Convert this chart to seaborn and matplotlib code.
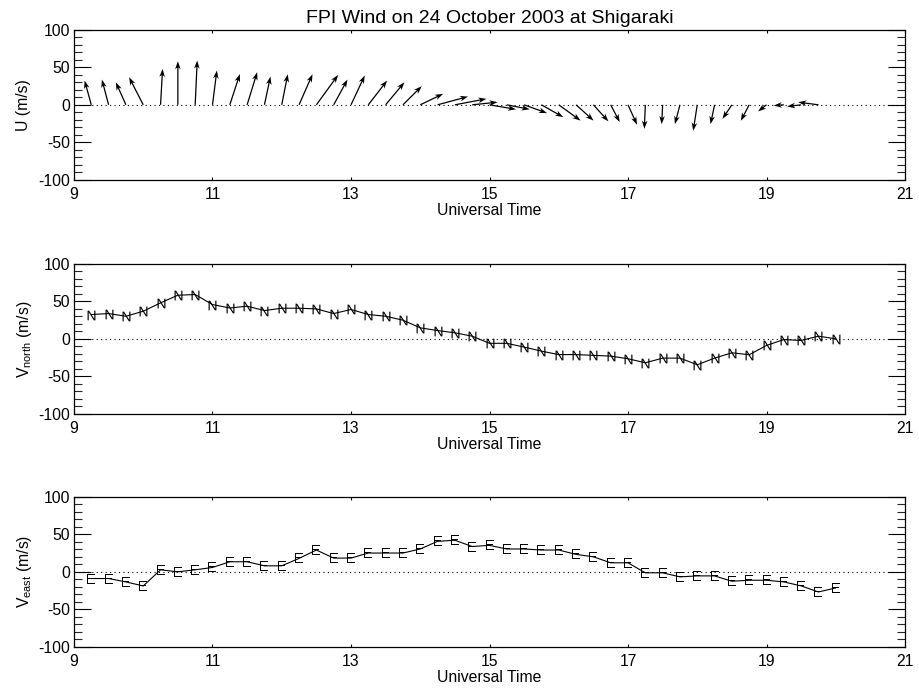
import matplotlib
matplotlib.use("Agg")
import matplotlib.pyplot as plt
import seaborn as sns
import pandas as pd
from matplotlib.ticker import MultipleLocator

# ---------------- data ----------------
times = [9.25, 9.5, 9.75, 10.0, 10.25, 10.5, 10.75, 11.0, 11.25, 11.5, 11.75,
         12.0, 12.25, 12.5, 12.75, 13.0, 13.25, 13.5, 13.75, 14.0, 14.25, 14.5,
         14.75, 15.0, 15.25, 15.5, 15.75, 16.0, 16.25, 16.5, 16.75, 17.0, 17.25,
         17.5, 17.75, 18.0, 18.25, 18.5, 18.75, 19.0, 19.25, 19.5, 19.75, 20.0]

v_north = [32.3, 33.6, 30.0, 36.7, 47.8, 58.0, 58.9, 45.6, 41.0, 43.4, 37.6,
           40.7, 40.7, 39.8, 33.6, 39.0, 32.3, 30.0, 24.8, 14.6, 11.0, 8.0,
           3.5, -6.0, -6.0, -11.0, -16.4, -21.0, -21.0, -22.0, -23.0, -26.5, -31.9,
           -25.7, -25.7, -34.5, -25.7, -18.6, -21.2, -8.8, -1.0, -2.2, 3.5, 0.0]

v_east = [-8.9, -8.9, -13.4, -18.8, 2.7, 0.0, 2.7, 5.8, 13.4, 13.4, 8.0,
          8.0, 17.9, 29.0, 18.3, 18.3, 25.0, 25.0, 25.0, 30.4, 40.6, 42.0,
          33.7, 35.2, 30.4, 30.4, 29.0, 29.0, 23.2, 20.0, 12.0, 12.0, -1.3,
          -1.3, -6.7, -5.4, -5.4, -12.5, -11.2, -11.2, -13.4, -18.7, -26.8, -21.4]

n_arrows = 43  # the last sample has no arrow drawn in the vector panel

title = "FPI Wind on 24 October 2003 at Shigaraki"
xlabel = "Universal Time"
ylabels = ["U (m/s)", r"V$_{\mathregular{north}}$ (m/s)", r"V$_{\mathregular{east}}$ (m/s)"]
xticks = [9, 11, 13, 15, 17, 19, 21]
yticks = [-100, -50, 0, 50, 100]

df = pd.DataFrame({"t": times, "north": v_north, "east": v_east})

# ---------------- style ----------------
sns.set_theme(style="ticks")
plt.rcParams["font.family"] = ["Liberation Sans", "DejaVu Sans"]
plt.rcParams["mathtext.fontset"] = "custom"
plt.rcParams["mathtext.rm"] = "Liberation Sans"
plt.rcParams["mathtext.it"] = "Liberation Sans"
plt.rcParams["axes.linewidth"] = 0.9
plt.rcParams["axes.edgecolor"] = "black"
plt.rcParams["axes.unicode_minus"] = False

fig = plt.figure(figsize=(9.19, 6.96), dpi=100)
left, width, height = 0.0805, 0.9043, 0.2160
bottoms = [0.7414, 0.4052, 0.0704]
axes = [fig.add_axes([left, b, width, height]) for b in bottoms]

FS = 11.3

def style_axis(ax, ylab, pad):
    ax.set_xlim(9, 21)
    ax.set_ylim(-100, 100)
    ax.set_xticks(xticks)
    ax.set_yticks(yticks)
    ax.yaxis.set_minor_locator(MultipleLocator(10))
    ax.tick_params(axis="y", which="major", direction="in", length=12, width=0.8,
                   left=True, right=True, labelsize=FS, pad=3, colors="black")
    ax.tick_params(axis="y", which="minor", direction="in", length=5.8, width=0.8,
                   left=True, right=True)
    ax.tick_params(axis="x", which="major", direction="in", length=2.5, width=0.8,
                   top=True, bottom=True, labelsize=FS, pad=5, colors="black")
    ax.tick_params(axis="x", which="minor", bottom=False, top=False)
    ax.axhline(0, color="black", linestyle=(0, (1, 3)), linewidth=0.8, zorder=1)
    ax.set_xlabel(xlabel, fontsize=FS, labelpad=1, color="black")
    ax.set_ylabel(ylab, fontsize=FS, labelpad=pad, color="black")
    for s in ax.spines.values():
        s.set_visible(True)
        s.set_color("black")

# panel 1: wind vectors
ax = axes[0]
ax.quiver(df["t"][:n_arrows], [0] * n_arrows, df["east"][:n_arrows], df["north"][:n_arrows],
          angles="uv", scale_units="y", scale=1, pivot="tail", color="black",
          width=0.0015, headwidth=4.5, headlength=6.5, headaxislength=5.0, zorder=3)
style_axis(ax, ylabels[0], 5)
ax.set_title(title, fontsize=14, pad=5, color="black")

# panel 2: north component
sns.lineplot(data=df, x="t", y="north", ax=axes[1], color="black", linewidth=0.8,
             marker=r"$\mathrm{N}$", markersize=7, markeredgewidth=0,
             markerfacecolor="black", markeredgecolor="black", sort=False,
             estimator=None, zorder=3)
style_axis(axes[1], ylabels[1], 2.5)

# panel 3: east component
sns.lineplot(data=df, x="t", y="east", ax=axes[2], color="black", linewidth=0.8,
             marker=r"$\mathrm{E}$", markersize=7, markeredgewidth=0,
             markerfacecolor="black", markeredgecolor="black", sort=False,
             estimator=None, zorder=3)
style_axis(axes[2], ylabels[2], 2.5)

fig.savefig("out.png", dpi=100, facecolor="white")
